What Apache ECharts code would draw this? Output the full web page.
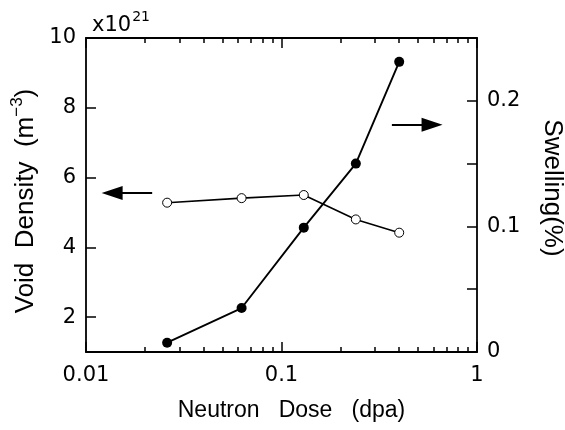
<!DOCTYPE html>
<html>
<head>
<meta charset="utf-8">
<script src="https://cdn.jsdelivr.net/npm/echarts@6/dist/echarts.min.js"></script>
<style>html,body{margin:0;padding:0;background:#fff}#c{width:565px;height:430px}</style>
</head>
<body>
<div id="c"></div>
<script>
// ---- data ----
const doses = [0.026, 0.0625, 0.13, 0.24, 0.40];            // dpa
const voidDensity = [5.28, 5.41, 5.50, 4.80, 4.42];         // x10^21 m^-3
const swelling = [0.0074, 0.035, 0.099, 0.150, 0.231];      // %
const xMinorTicks = [0.02,0.03,0.04,0.05,0.06,0.07,0.08,0.09,0.2,0.3,0.4,0.5,0.6,0.7,0.8,0.9];
const leftTickValues = [2, 4, 6, 8, 10];
const rightTickValues = [0, 0.05, 0.1, 0.15, 0.2, 0.25];
const rightLabelValues = [0, 0.1, 0.2];
const leftArrow = [[0.0218, 5.56], [0.0136, 5.56]];
const rightArrow = [[0.367, 0.181], [0.589, 0.181]];

const FONT = 'Liberation Sans';
const NUMFONT = 'DejaVu Sans';
const black = '#000';
const axisLine = {show: true, onZero: false, lineStyle: {color: black, width: 1.8}};
const tickStyle = {color: black, width: 1.5};

function logAxis(pos, labels) {
  return {
    type: 'log', logBase: 10, min: 0.01, max: 1, position: pos,
    axisLine: axisLine,
    axisTick: {show: true, inside: true, length: 10, lineStyle: tickStyle},
    axisLabel: labels ? {show: true, fontFamily: NUMFONT, fontSize: 21, color: black, margin: 13,
      formatter: v => String(+Number(v).toPrecision(3))} : {show: false},
    splitLine: {show: false}, minorTick: {show: false}
  };
}
// minor decade ticks (2..9) placed on a companion axis spanning the same decades in log10 space
function minorTickAxis(pos) {
  return {
    type: 'value', min: -2, max: 0, position: pos,
    axisLine: {show: false, onZero: false},
    axisTick: {show: true, inside: true, length: 5, customValues: xMinorTicks.map(Math.log10), lineStyle: tickStyle},
    axisLabel: {show: false},
    splitLine: {show: false}
  };
}

const chart = echarts.init(document.getElementById('c'), null, {renderer: 'canvas'});
chart.setOption({
  animation: false,
  backgroundColor: '#fff',
  title: {
    left: 87, top: 5,
    text: '{a|x10}{s|21}',
    textStyle: {
      fontWeight: 'normal',
      rich: {
        a: {fontFamily: NUMFONT, fontSize: 21, fontWeight: 'normal', color: black, verticalAlign: 'bottom', lineHeight: 26},
        s: {fontFamily: NUMFONT, fontSize: 14, fontWeight: 'normal', color: black, verticalAlign: 'top', lineHeight: 26, padding: [0, 0, 8, 1]}
      }
    }
  },
  grid: {left: 86, right: 88, top: 38, bottom: 78, containLabel: false, outerBoundsMode: 'none'},
  xAxis: [
    Object.assign(logAxis('bottom', true), {
      name: 'Neutron   Dose   (dpa)', nameLocation: 'middle', nameGap: 47,
      nameTextStyle: {fontFamily: FONT, fontSize: 23, color: black, padding: [0, 0, 0, 20]}
    }),
    logAxis('top', false),
    minorTickAxis('bottom'),
    minorTickAxis('top')
  ],
  yAxis: [
    {
      type: 'value', position: 'left', min: 1, max: 10,
      axisLine: axisLine,
      axisTick: {show: true, inside: true, length: 10, customValues: leftTickValues, lineStyle: tickStyle},
      axisLabel: {customValues: leftTickValues, fontFamily: NUMFONT, fontSize: 21, color: black, margin: 10},
      splitLine: {show: false},
      name: '{a|Void  Density  (m}{s|−3}{a|)}', nameLocation: 'middle', nameGap: 46, nameRotate: 90,
      nameTextStyle: {
        padding: [0, 12, 0, 0],
        rich: {
          a: {fontFamily: FONT, fontSize: 26, color: black, verticalAlign: 'bottom', lineHeight: 30},
          s: {fontFamily: FONT, fontSize: 17, color: black, verticalAlign: 'top', lineHeight: 30, padding: [0, 0, 9, 0]}
        }
      }
    },
    {
      type: 'value', position: 'right', min: 0, max: 0.25,
      axisLine: axisLine,
      axisTick: {show: true, inside: true, length: 10, customValues: rightTickValues, lineStyle: tickStyle},
      axisLabel: {customValues: rightLabelValues, fontFamily: NUMFONT, fontSize: 21, color: black, margin: 10,
        formatter: v => String(+Number(v).toPrecision(3))},
      splitLine: {show: false},
      name: 'Swelling(%)', nameLocation: 'middle', nameGap: 62, nameRotate: -90,
      nameTextStyle: {fontFamily: FONT, fontSize: 26, color: black, padding: [0, 14, 0, 0]}
    }
  ],
  series: [
    {
      type: 'line', name: 'Void density', xAxisIndex: 0, yAxisIndex: 0,
      data: doses.map((d, i) => [d, voidDensity[i]]),
      symbol: 'circle', symbolSize: 9,
      itemStyle: {color: '#fff', borderColor: black, borderWidth: 1},
      lineStyle: {color: black, width: 1.6},
      z: 3,
      markLine: {
        silent: true, animation: false,
        symbol: ['none', 'triangle'], symbolSize: [14, 21],
        label: {show: false},
        lineStyle: {color: black, width: 1.8, type: 'solid'},
        data: [[{coord: leftArrow[0]}, {coord: leftArrow[1]}]]
      }
    },
    {
      type: 'line', name: 'Swelling', xAxisIndex: 0, yAxisIndex: 1,
      data: doses.map((d, i) => [d, swelling[i]]),
      symbol: 'circle', symbolSize: 10,
      itemStyle: {color: black, borderColor: black, borderWidth: 0},
      lineStyle: {color: black, width: 1.9},
      z: 2,
      markLine: {
        silent: true, animation: false,
        symbol: ['none', 'triangle'], symbolSize: [14, 21],
        label: {show: false},
        lineStyle: {color: black, width: 1.8, type: 'solid'},
        data: [[{coord: rightArrow[0]}, {coord: rightArrow[1]}]]
      }
    }
  ]
});
</script>
</body>
</html>
